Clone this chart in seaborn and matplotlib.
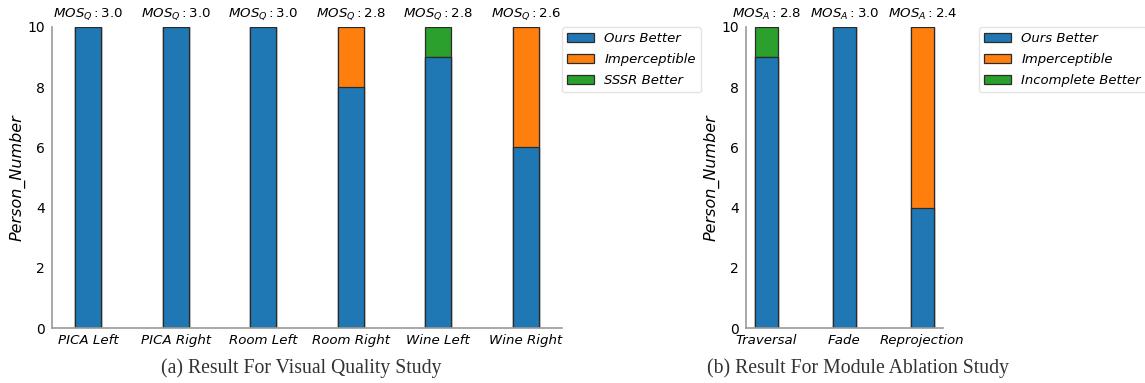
import numpy as np
import pandas as pd
import matplotlib
matplotlib.use('Agg')
import matplotlib.pyplot as plt
from matplotlib.patches import Patch
import seaborn as sns

# данные (a) визуальное качество
quality_scenes = ['PICA Left', 'PICA Right', 'Room Left', 'Room Right', 'Wine Left', 'Wine Right']
quality_ours = [10, 10, 10, 8, 9, 6]
quality_imperceptible = [0, 0, 0, 2, 0, 4]
quality_sssr = [0, 0, 0, 0, 1, 0]
quality_mos = [3.0, 3.0, 3.0, 2.8, 2.8, 2.6]

# данные (b) абляция модулей
ablation_modules = ['Traversal', 'Fade', 'Reprojection']
ablation_ours = [9, 10, 4]
ablation_imperceptible = [0, 0, 6]
ablation_incomplete = [1, 0, 0]
ablation_mos = [2.8, 3.0, 2.4]

BLUE, ORANGE, GREEN = '#1f77b4', '#ff7f0e', '#2ca02c'
BAR_W = 0.3

sns.set_style('white', rc={'text.color': 'black', 'axes.labelcolor': 'black',
                           'xtick.color': 'black', 'ytick.color': 'black'})
plt.rcParams['font.family'] = ['DejaVu Sans']


def stacked_panel(ax, cats, layers, colors, labels, mos, mos_sub, legend_x):
    df = pd.DataFrame({'cat': cats})
    tops = np.cumsum(np.array(layers), axis=0)
    # рисуем от верхнего слоя к нижнему, нижние перекрывают верхние
    for k in range(len(layers) - 1, -1, -1):
        df['v'] = tops[k]
        sns.barplot(data=df, x='cat', y='v', order=cats, color=colors[k],
                    saturation=1, width=BAR_W, edgecolor='#2b2b2b',
                    linewidth=0.9, ax=ax)
    n = len(cats)
    span = (n - 1) + BAR_W
    pad = 0.05 * span
    ax.set_xlim(-BAR_W / 2 - pad, n - 1 + BAR_W / 2 + pad)
    ax.set_ylim(0, 10)
    ax.set_yticks([0, 2, 4, 6, 8, 10])
    ax.set_xlabel('')
    ax.set_ylabel('Person_Number', fontsize=11.5, fontstyle='italic', labelpad=1)
    ax.tick_params(axis='y', labelsize=10, length=3, color='#999999', pad=2)
    ax.tick_params(axis='x', labelsize=9.6, length=0, pad=4.5)
    for lab in ax.get_xticklabels():
        lab.set_fontstyle('italic')
    for s in ['top', 'right']:
        ax.spines[s].set_visible(False)
    for s in ['left', 'bottom']:
        ax.spines[s].set_color('#999999')
        ax.spines[s].set_linewidth(1.2)
    for i, m in enumerate(mos):
        ax.text(i, 10.15, r'$MOS_{%s}: %.1f$' % (mos_sub, m), ha='center',
                va='bottom', fontsize=9.6)
    handles = [Patch(facecolor=c, edgecolor='#2b2b2b', linewidth=0.9, label=l)
               for c, l in zip(colors, labels)]
    leg = ax.legend(handles=handles, loc='upper left', bbox_to_anchor=(legend_x, 1.0),
                    borderaxespad=0, frameon=True, labelspacing=0.6,
                    prop={'size': 9.5, 'style': 'italic'})
    leg.get_frame().set_edgecolor('#dddddd')


fig = plt.figure(figsize=(11.45, 3.83), dpi=100)
ax1 = fig.add_axes([52 / 1145, 55 / 383, 510 / 1145, 301 / 383])
ax2 = fig.add_axes([746 / 1145, 55 / 383, 197 / 1145, 301 / 383])

stacked_panel(ax1, quality_scenes,
              [quality_ours, quality_imperceptible, quality_sssr],
              [BLUE, ORANGE, GREEN],
              ['Ours Better', 'Imperceptible', 'SSSR Better'],
              quality_mos, 'Q', 1.0)
stacked_panel(ax2, ablation_modules,
              [ablation_ours, ablation_imperceptible, ablation_incomplete],
              [BLUE, ORANGE, GREEN],
              ['Ours Better', 'Imperceptible', 'Incomplete Better'],
              ablation_mos, 'A', 1.183)

fig.text(301 / 1145, 15 / 383, '(a) Result For Visual Quality Study', ha='center',
         va='center', fontsize=14.2, family='Liberation Serif', color='#333333')
fig.text(858 / 1145, 15 / 383, '(b) Result For Module Ablation Study', ha='center',
         va='center', fontsize=14.2, family='Liberation Serif', color='#333333')

fig.savefig('out.png', dpi=100)
